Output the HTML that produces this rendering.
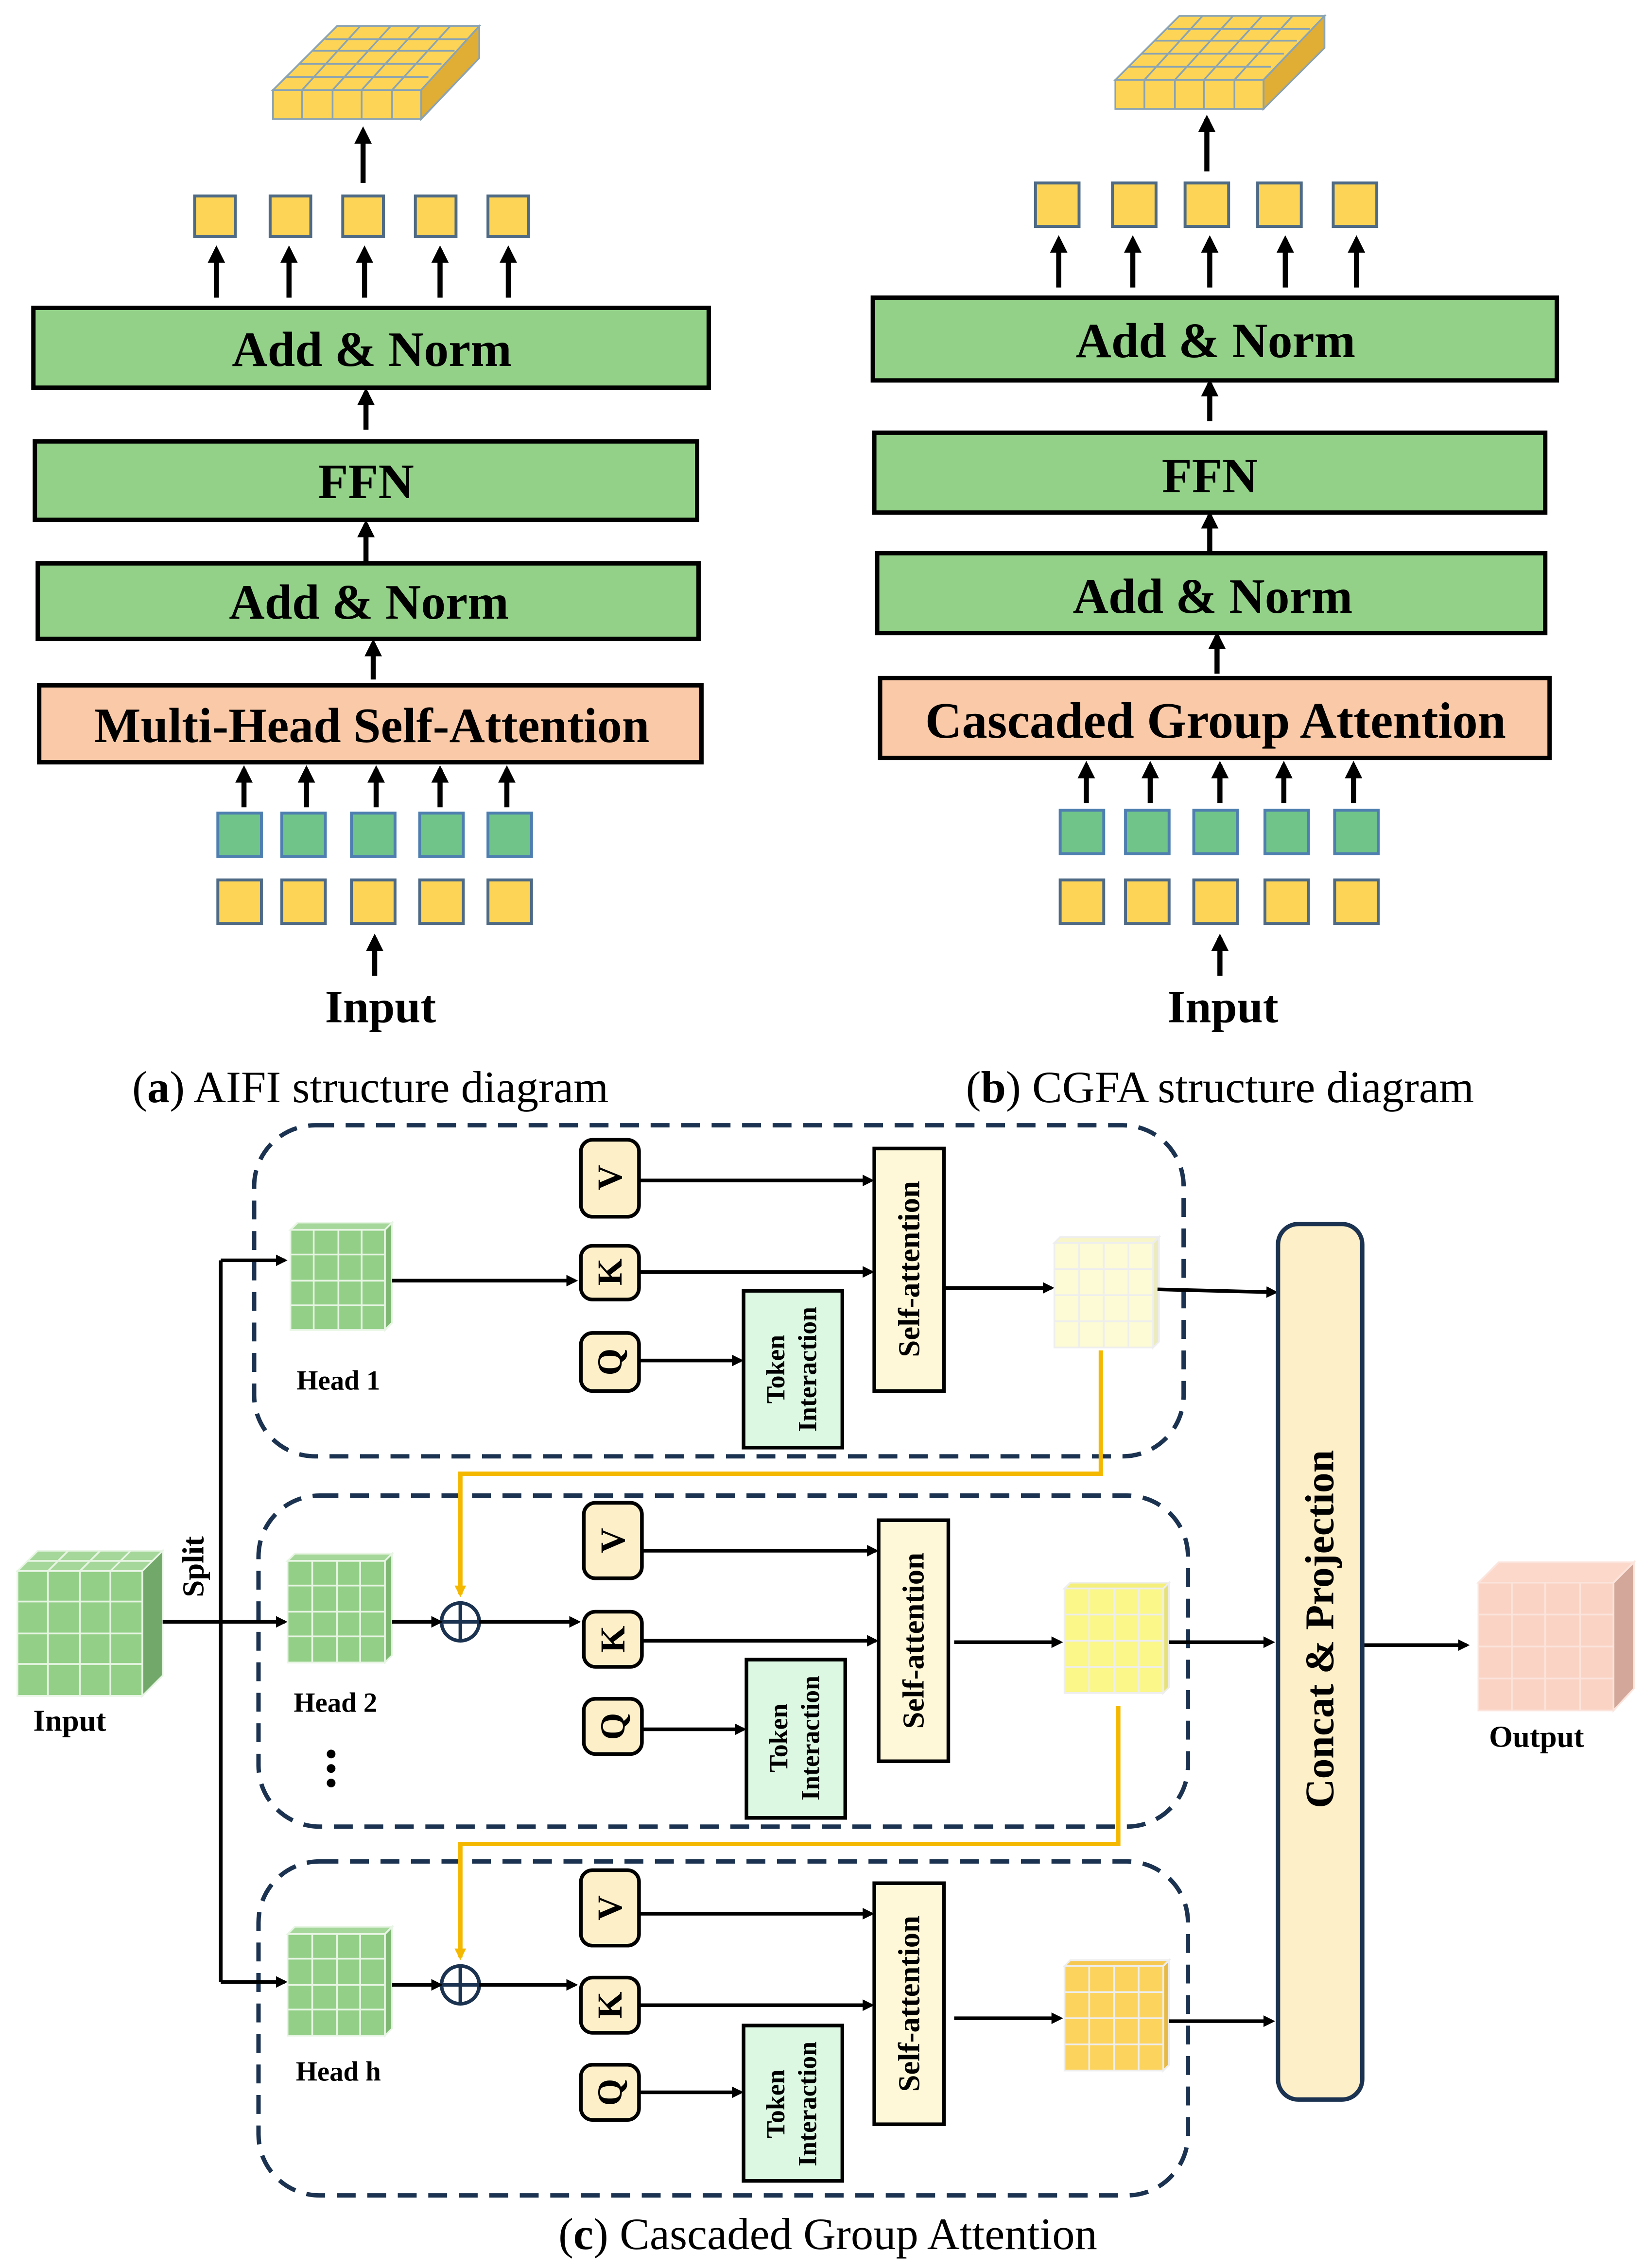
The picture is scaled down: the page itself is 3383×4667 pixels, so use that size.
<!DOCTYPE html>
<html><head><meta charset="utf-8"><style>
html,body{margin:0;padding:0;background:#fff}
svg{display:block}
text{font-family:"Liberation Serif",serif}
</style></head><body>
<svg width="3383" height="4667" viewBox="0 0 1132 1562" preserveAspectRatio="none" xmlns="http://www.w3.org/2000/svg">
<defs>
<marker id="ah" markerWidth="8" markerHeight="8" refX="6" refY="4" orient="auto" markerUnits="userSpaceOnUse"><path d="M0,0 L8,4 L0,8 z" fill="#000"/></marker>
<marker id="ab" markerWidth="12" markerHeight="12" refX="9" refY="6" orient="auto" markerUnits="userSpaceOnUse"><path d="M0,0 L12,6 L0,12 z" fill="#000"/></marker>
<marker id="ay" markerWidth="8" markerHeight="8" refX="6" refY="4" orient="auto" markerUnits="userSpaceOnUse"><path d="M0,0 L8,4 L0,8 z" fill="#f5b800"/></marker>
</defs>

<!-- ===== Panel (a) ===== -->
<g stroke="#8aa3b3" stroke-width="1.2">
<polygon points="188,62 232,18 330,18 290,62" fill="#fdd455"/>
<polygon points="290,62 330,18 330,40 290,82" fill="#e0ad35"/>
<rect x="188" y="62" width="102" height="20" fill="#fdd455"/>
<path d="M208,62v20M229,62v20M249,62v20M270,62v20M197,53h98M206,44h98M215,35h98M224,27h98M208,62l40,-44M229,62l40,-44M249,62l40,-44M270,62l40,-44" fill="none"/>
</g>
<g stroke="#000" stroke-width="3.5" marker-end="url(#ab)">
<line x1="250" y1="126" x2="250" y2="90"/>
<line x1="149" y1="205" x2="149" y2="172"/><line x1="199" y1="205" x2="199" y2="172"/><line x1="251" y1="205" x2="251" y2="172"/><line x1="303" y1="205" x2="303" y2="172"/><line x1="350" y1="205" x2="350" y2="172"/>
<line x1="252" y1="296" x2="252" y2="270"/>
<line x1="252" y1="388" x2="252" y2="361"/>
<line x1="257" y1="468" x2="257" y2="443"/>
<line x1="168" y1="556" x2="168" y2="530"/><line x1="211" y1="556" x2="211" y2="530"/><line x1="259" y1="556" x2="259" y2="530"/><line x1="303" y1="556" x2="303" y2="530"/><line x1="349" y1="556" x2="349" y2="530"/>
<line x1="258" y1="672" x2="258" y2="646"/>
</g>
<g fill="#fdd455" stroke="#4e6a85" stroke-width="2">
<rect x="134" y="135" width="28" height="28"/><rect x="186" y="135" width="28" height="28"/><rect x="236" y="135" width="28" height="28"/><rect x="286" y="135" width="28" height="28"/><rect x="336" y="135" width="28" height="28"/>
<rect x="150" y="606" width="30" height="30"/><rect x="194" y="606" width="30" height="30"/><rect x="242" y="606" width="30" height="30"/><rect x="289" y="606" width="30" height="30"/><rect x="336" y="606" width="30" height="30"/>
</g>
<g fill="#70c48a" stroke="#4e7fb0" stroke-width="2">
<rect x="150" y="560" width="30" height="30"/><rect x="194" y="560" width="30" height="30"/><rect x="242" y="560" width="30" height="30"/><rect x="289" y="560" width="30" height="30"/><rect x="336" y="560" width="30" height="30"/>
</g>
<g stroke="#000" stroke-width="3">
<rect x="23" y="212" width="465" height="55" fill="#93d188"/>
<rect x="24" y="304" width="456" height="54" fill="#93d188"/>
<rect x="26" y="388" width="455" height="52" fill="#93d188"/>
<rect x="27" y="472" width="456" height="53" fill="#f9c9a8"/>
</g>
<g font-weight="bold" font-size="34" text-anchor="middle" fill="#000">
<text x="256" y="252">Add &amp; Norm</text>
<text x="252" y="343">FFN</text>
<text x="254" y="426">Add &amp; Norm</text>
<text x="256" y="511">Multi-Head Self-Attention</text>
<text x="262" y="704" font-size="32">Input</text>
</g>
<text x="255" y="759" font-size="31" text-anchor="middle">(<tspan font-weight="bold">a</tspan>) AIFI structure diagram</text>

<!-- ===== Panel (b) ===== -->
<g stroke="#8aa3b3" stroke-width="1.2">
<polygon points="768,55 812,11 912,11 870,55" fill="#fdd455"/>
<polygon points="870,55 912,11 912,33 870,75" fill="#e0ad35"/>
<rect x="768" y="55" width="102" height="20" fill="#fdd455"/>
<path d="M788,55v20M809,55v20M829,55v20M850,55v20M777,46h98M786,37h98M795,28h98M804,20h98M788,55l40,-44M809,55l40,-44M829,55l40,-44M850,55l40,-44" fill="none"/>
</g>
<g stroke="#000" stroke-width="3.5" marker-end="url(#ab)">
<line x1="831" y1="118" x2="831" y2="82"/>
<line x1="729" y1="198" x2="729" y2="165"/><line x1="780" y1="198" x2="780" y2="165"/><line x1="833" y1="198" x2="833" y2="165"/><line x1="885" y1="198" x2="885" y2="165"/><line x1="934" y1="198" x2="934" y2="165"/>
<line x1="833" y1="290" x2="833" y2="264"/>
<line x1="833" y1="381" x2="833" y2="355"/>
<line x1="838" y1="464" x2="838" y2="438"/>
<line x1="748" y1="553" x2="748" y2="527"/><line x1="792" y1="553" x2="792" y2="527"/><line x1="840" y1="553" x2="840" y2="527"/><line x1="884" y1="553" x2="884" y2="527"/><line x1="932" y1="553" x2="932" y2="527"/>
<line x1="840" y1="672" x2="840" y2="646"/>
</g>
<g fill="#fdd455" stroke="#4e6a85" stroke-width="2">
<rect x="713" y="126" width="30" height="30"/><rect x="766" y="126" width="30" height="30"/><rect x="816" y="126" width="30" height="30"/><rect x="866" y="126" width="30" height="30"/><rect x="918" y="126" width="30" height="30"/>
<rect x="730" y="606" width="30" height="30"/><rect x="775" y="606" width="30" height="30"/><rect x="822" y="606" width="30" height="30"/><rect x="871" y="606" width="30" height="30"/><rect x="919" y="606" width="30" height="30"/>
</g>
<g fill="#70c48a" stroke="#4e7fb0" stroke-width="2">
<rect x="730" y="558" width="30" height="30"/><rect x="775" y="558" width="30" height="30"/><rect x="822" y="558" width="30" height="30"/><rect x="871" y="558" width="30" height="30"/><rect x="919" y="558" width="30" height="30"/>
</g>
<g stroke="#000" stroke-width="3">
<rect x="601" y="205" width="471" height="57" fill="#93d188"/>
<rect x="602" y="298" width="462" height="55" fill="#93d188"/>
<rect x="604" y="381" width="460" height="55" fill="#93d188"/>
<rect x="606" y="467" width="461" height="55" fill="#f9c9a8"/>
</g>
<g font-weight="bold" font-size="34" text-anchor="middle" fill="#000">
<text x="837" y="246">Add &amp; Norm</text>
<text x="833" y="339">FFN</text>
<text x="835" y="422">Add &amp; Norm</text>
<text x="837" y="508" font-size="35">Cascaded Group Attention</text>
<text x="842" y="704" font-size="32">Input</text>
</g>
<text x="840" y="759" font-size="31" text-anchor="middle">(<tspan font-weight="bold">b</tspan>) CGFA structure diagram</text>

<!-- ===== Panel (c) ===== -->
<g fill="none" stroke="#1b3350" stroke-width="3" stroke-dasharray="13,8">
<rect x="175" y="775" width="640" height="228" rx="42"/>
<rect x="178" y="1030" width="640" height="228" rx="42"/>
<rect x="178" y="1282" width="640" height="230" rx="42"/>
</g>

<g stroke="#e8f5e4" stroke-width="1.2">
<polygon points="12,1082 26,1068 112,1068 98,1082" fill="#a6d79a"/>
<polygon points="98,1082 112,1068 112,1154 98,1168" fill="#72a86a"/>
<rect x="12" y="1082" width="86" height="86" fill="#93cf87"/>
<path d="M33,1082v86M55,1082v86M76,1082v86M12,1103h86M12,1125h86M12,1146h86M19,1075h86M33,1082l14,-14M55,1082l14,-14M76,1082l14,-14" fill="none"/>
</g>
<text x="48" y="1192" font-size="21" font-weight="bold" text-anchor="middle">Input</text>
<text transform="translate(140,1100) rotate(-90)" font-size="21" font-weight="bold">Split</text>

<g stroke="#000" stroke-width="2.5" fill="none">
<path d="M112,1117 H152 M152,868 V1365"/>
</g>
<g stroke="#000" stroke-width="2.5" marker-end="url(#ah)">
<line x1="152" y1="868" x2="196" y2="868"/>
<line x1="152" y1="1117" x2="196" y2="1117"/>
<line x1="152" y1="1365" x2="196" y2="1365"/>
</g>

<g stroke="#e8f5e4" stroke-width="1.2">
<g transform="translate(200,842)"><polygon points="0,5 5,0 70,0 65,5" fill="#a6d79a"/><polygon points="65,5 70,0 70,69 65,74" fill="#7fb873"/><rect x="0" y="5" width="65" height="69" fill="#93cf87"/><path d="M16,5v69M33,5v69M49,5v69M0,22h65M0,40h65M0,57h65" fill="none"/></g>
<g transform="translate(198,1070)"><polygon points="0,5 5,0 72,0 67,5" fill="#a6d79a"/><polygon points="67,5 72,0 72,70 67,75" fill="#7fb873"/><rect x="0" y="5" width="67" height="70" fill="#93cf87"/><path d="M17,5v70M34,5v70M50,5v70M0,22h67M0,40h67M0,57h67" fill="none"/></g>
<g transform="translate(198,1327)"><polygon points="0,5 5,0 72,0 67,5" fill="#a6d79a"/><polygon points="67,5 72,0 72,70 67,75" fill="#7fb873"/><rect x="0" y="5" width="67" height="70" fill="#93cf87"/><path d="M17,5v70M34,5v70M50,5v70M0,22h67M0,40h67M0,57h67" fill="none"/></g>
</g>
<g font-size="19" font-weight="bold" text-anchor="middle">
<text x="233" y="957">Head 1</text>
<text x="231" y="1179">Head 2</text>
<text x="233" y="1433">Head h</text>
</g>
<g fill="#000"><circle cx="228" cy="1208" r="3"/><circle cx="228" cy="1218" r="3"/><circle cx="228" cy="1228" r="3"/></g>

<g stroke="#eeeeee" stroke-width="1.2">
<g transform="translate(726,852)"><polygon points="0,4 4,0 72,0 68,4" fill="#f8f5c8"/><polygon points="68,4 72,0 72,72 68,76" fill="#ecebc0"/><rect x="0" y="4" width="68" height="72" fill="#fcfbd5"/><path d="M17,4v72M34,4v72M51,4v72M0,22h68M0,40h68M0,58h68" fill="none"/></g>
<g transform="translate(733,1090)"><polygon points="0,4 4,0 72,0 68,4" fill="#f4ee7a"/><polygon points="68,4 72,0 72,72 68,76" fill="#e6e27a"/><rect x="0" y="4" width="68" height="72" fill="#fbf789"/><path d="M17,4v72M34,4v72M51,4v72M0,22h68M0,40h68M0,58h68" fill="none"/></g>
<g transform="translate(733,1350)"><polygon points="0,4 4,0 72,0 68,4" fill="#f6c850"/><polygon points="68,4 72,0 72,72 68,76" fill="#e7b945"/><rect x="0" y="4" width="68" height="72" fill="#fcd35c"/><path d="M17,4v72M34,4v72M51,4v72M0,22h68M0,40h68M0,58h68" fill="none"/></g>
</g>

<g stroke="#f5b800" stroke-width="3" fill="none">
<path d="M758,930 V1015 H317 V1098" marker-end="url(#ay)"/>
<path d="M770,1175 V1270 H317 V1348" marker-end="url(#ay)"/>
</g>

<g stroke="#1b3350" stroke-width="2.5" fill="#fff">
<circle cx="317" cy="1117" r="13"/><circle cx="317" cy="1367" r="13"/>
</g>
<path d="M304,1117h26M317,1104v26M304,1367h26M317,1354v26" stroke="#1b3350" stroke-width="2.5"/>

<g fill="#fdefc8" stroke="#000" stroke-width="2.5">
<rect x="400" y="785" width="40" height="53" rx="8"/><rect x="400" y="858" width="40" height="37" rx="8"/><rect x="400" y="918" width="40" height="40" rx="8"/>
<rect x="402" y="1035" width="40" height="52" rx="8"/><rect x="402" y="1110" width="40" height="38" rx="8"/><rect x="402" y="1170" width="40" height="38" rx="8"/>
<rect x="400" y="1288" width="40" height="52" rx="8"/><rect x="400" y="1362" width="40" height="38" rx="8"/><rect x="400" y="1422" width="40" height="38" rx="8"/>
</g>
<g font-size="24" font-weight="bold" text-anchor="middle">
<text transform="translate(428,811) rotate(-90)">V</text>
<text transform="translate(428,876) rotate(-90)">K</text>
<text transform="translate(428,938) rotate(-90)">Q</text>
<text transform="translate(430,1061) rotate(-90)">V</text>
<text transform="translate(430,1129) rotate(-90)">K</text>
<text transform="translate(430,1189) rotate(-90)">Q</text>
<text transform="translate(428,1314) rotate(-90)">V</text>
<text transform="translate(428,1381) rotate(-90)">K</text>
<text transform="translate(428,1441) rotate(-90)">Q</text>
</g>

<g stroke="#000" stroke-width="2.5">
<rect x="512" y="889" width="68" height="108" fill="#dcf8e3"/>
<rect x="514" y="1143" width="68" height="109" fill="#dcf8e3"/>
<rect x="512" y="1395" width="68" height="107" fill="#dcf8e3"/>
<rect x="602" y="791" width="48" height="167" fill="#fff8d8"/>
<rect x="605" y="1047" width="48" height="166" fill="#fff8d8"/>
<rect x="602" y="1297" width="48" height="166" fill="#fff8d8"/>
</g>
<g font-size="18" font-weight="bold" text-anchor="middle">
<text transform="translate(540,943) rotate(-90)">Token</text><text transform="translate(562,943) rotate(-90)">Interaction</text>
<text transform="translate(542,1197) rotate(-90)">Token</text><text transform="translate(564,1197) rotate(-90)">Interaction</text>
<text transform="translate(540,1449) rotate(-90)">Token</text><text transform="translate(562,1449) rotate(-90)">Interaction</text>
<text transform="translate(633,874) rotate(-90)" font-size="21">Self-attention</text>
<text transform="translate(636,1130) rotate(-90)" font-size="21">Self-attention</text>
<text transform="translate(633,1380) rotate(-90)" font-size="21">Self-attention</text>
</g>

<g stroke="#000" stroke-width="2.5" marker-end="url(#ah)">
<line x1="270" y1="882" x2="396" y2="882"/>
<line x1="440" y1="813" x2="600" y2="813"/>
<line x1="440" y1="876" x2="600" y2="876"/>
<line x1="440" y1="937" x2="510" y2="937"/>
<line x1="650" y1="887" x2="724" y2="887"/>
<line x1="797" y1="888" x2="878" y2="890"/>

<line x1="270" y1="1117" x2="303" y2="1117"/>
<line x1="330" y1="1117" x2="398" y2="1117"/>
<line x1="442" y1="1068" x2="603" y2="1068"/>
<line x1="442" y1="1130" x2="603" y2="1130"/>
<line x1="442" y1="1191" x2="512" y2="1191"/>
<line x1="657" y1="1131" x2="730" y2="1131"/>
<line x1="805" y1="1131" x2="876" y2="1131"/>

<line x1="270" y1="1367" x2="303" y2="1367"/>
<line x1="330" y1="1367" x2="396" y2="1367"/>
<line x1="440" y1="1318" x2="600" y2="1318"/>
<line x1="440" y1="1381" x2="600" y2="1381"/>
<line x1="440" y1="1441" x2="510" y2="1441"/>
<line x1="657" y1="1390" x2="730" y2="1390"/>
<line x1="805" y1="1392" x2="876" y2="1392"/>

<line x1="938" y1="1133" x2="1010" y2="1133"/>
</g>

<rect x="880" y="843" width="58" height="603" rx="14" fill="#fdefc8" stroke="#1b3350" stroke-width="3"/>
<text transform="translate(918,1122) rotate(-90)" font-size="28" font-weight="bold" text-anchor="middle">Concat &amp; Projection</text>

<g stroke="#fbe4dc" stroke-width="1.2">
<polygon points="1018,1090 1032,1076 1125,1076 1111,1090" fill="#fbd8ca"/>
<polygon points="1111,1090 1125,1076 1125,1163 1111,1178" fill="#d3a89a"/>
<rect x="1018" y="1090" width="93" height="88" fill="#fad3c4"/>
<path d="M1041,1090v88M1064,1090v88M1088,1090v88M1018,1112h93M1018,1134h93M1018,1156h93" fill="none"/>
</g>
<text x="1058" y="1203" font-size="21" font-weight="bold" text-anchor="middle">Output</text>

<text x="570" y="1549" font-size="31" text-anchor="middle">(<tspan font-weight="bold">c</tspan>) Cascaded Group Attention</text>
</svg>
</body></html>
